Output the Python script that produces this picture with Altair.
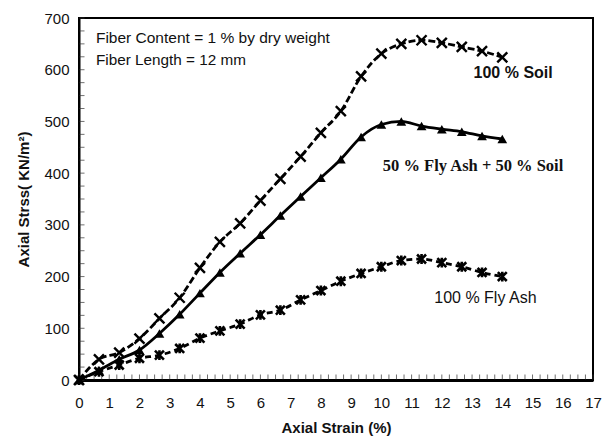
import altair as alt
import pandas as pd

strain = [0, 0.66, 1.33, 2, 2.66, 3.33, 4, 4.66, 5.33, 6, 6.66, 7.33, 8, 8.66,
          9.33, 10, 10.66, 11.33, 12, 12.66, 13.33, 14]
soil = [0, 40, 53, 80, 119, 159, 217, 267, 303, 347, 389, 432, 478, 520,
        587, 631, 650, 657, 652, 644, 636, 624]
mix = [0, 19, 40, 58, 90, 127, 168, 208, 245, 281, 318, 355, 391, 427,
       470, 494, 500, 491, 485, 480, 472, 466]
flyash = [0, 16, 29, 42, 48, 61, 81, 95, 108, 126, 135, 155, 173, 191,
          206, 219, 231, 234, 227, 219, 208, 200]

x_ticks = list(range(0, 18))
y_ticks = list(range(0, 701, 100))
x_minor = [i * 0.25 for i in range(0, 69)]
y_minor = [i * 25 for i in range(0, 29)]

xs = alt.Scale(domain=[0, 17], nice=False, zero=False)
ys = alt.Scale(domain=[0, 700], nice=False)

xaxis = alt.Axis(values=x_ticks, ticks=False, grid=False, domainWidth=3, domainColor="black",
                 labelFont="Liberation Sans", labelFontSize=15, labelColor="#111",
                 labelPadding=15, labelFlush=False, labelOverlap=False,
                 title="Axial Strain (%)", titleFont="Liberation Sans",
                 titleFontSize=15, titleFontWeight="bold", titlePadding=10, titleColor="#111")
yaxis = alt.Axis(values=y_ticks, ticks=False, grid=False, domainWidth=2, domainColor="black",
                 labelFont="Liberation Sans", labelFontSize=15, labelColor="#111",
                 labelPadding=10, labelFlush=False, labelOverlap=False,
                 title="Axial Strss( KN/m²)", titleFont="Liberation Sans",
                 titleFontSize=15, titleFontWeight="bold", titlePadding=12, titleColor="#111")

base_df = pd.DataFrame({"strain": strain, "soil": soil, "mix": mix, "flyash": flyash})


def X(field):
    return alt.X(field, scale=xs, axis=xaxis)


def Y(field):
    return alt.Y(field, scale=ys, axis=yaxis)


def series(col, dash, shape, filled, size, sw):
    b = alt.Chart(base_df)
    line_kw = dict(color="black", strokeWidth=2.8, interpolate="monotone")
    if dash:
        line_kw["strokeDash"] = dash
    line = b.mark_line(**line_kw).encode(x=X("strain:Q"), y=Y(f"{col}:Q"))
    pts = b.mark_point(shape=shape, filled=filled, size=size, color="black",
                       strokeWidth=sw, opacity=1).encode(x=X("strain:Q"), y=Y(f"{col}:Q"))
    return line + pts


xpath = "M-1,-1L1,1M1,-1L-1,1"
starpath = "M-1,-1L1,1M1,-1L-1,1M0,-1.1L0,1.1"

l_soil = series("soil", [7, 3], xpath, False, 100, 2.4)
l_mix = series("mix", None, "triangle-up", True, 95, 1)
l_fly = series("flyash", [6, 4], starpath, False, 80, 2.6)

xm = alt.Chart(pd.DataFrame({"v": x_minor, "z": [0] * len(x_minor)})).mark_tick(
    orient="vertical", size=5, thickness=1, color="#333", yOffset=-3
).encode(x=X("v:Q"), y=Y("z:Q"))
ym = alt.Chart(pd.DataFrame({"v": y_minor, "z": [0] * len(y_minor)})).mark_tick(
    orient="horizontal", size=5, thickness=1, color="#333", xOffset=3
).encode(y=Y("v:Q"), x=X("z:Q"))


def note(txt, x, y, font="Liberation Sans", size=15, weight="normal"):
    return alt.Chart().mark_text(text=txt, align="left", baseline="middle", font=font,
                                 fontSize=size, fontWeight=weight, color="#111").encode(
        x=alt.datum(x, scale=xs, axis=xaxis), y=alt.datum(y, scale=ys, axis=yaxis))


notes = (note("Fiber Content = 1 % by dry weight", 0.56, 662, size=15.5)
         + note("Fiber Length = 12 mm", 0.56, 618, size=15.3)
         + note("100 % Soil", 13.05, 594, size=16, weight="bold")
         + note("50 % Fly Ash + 50 % Soil", 10.05, 414, font="Liberation Serif", size=16.5, weight="bold")
         + note("100 % Fly Ash", 11.75, 159, size=16))

chart = alt.layer(xm, ym, l_soil, l_mix, l_fly, notes).properties(
    width=514, height=362,
    autosize=alt.AutoSizeParams(type="none"),
    padding={"left": 79, "top": 18, "right": 15, "bottom": 61},
).configure_view(stroke="black", strokeWidth=2)

chart.save("out.html", embed_options={"renderer": "svg", "actions": False})
